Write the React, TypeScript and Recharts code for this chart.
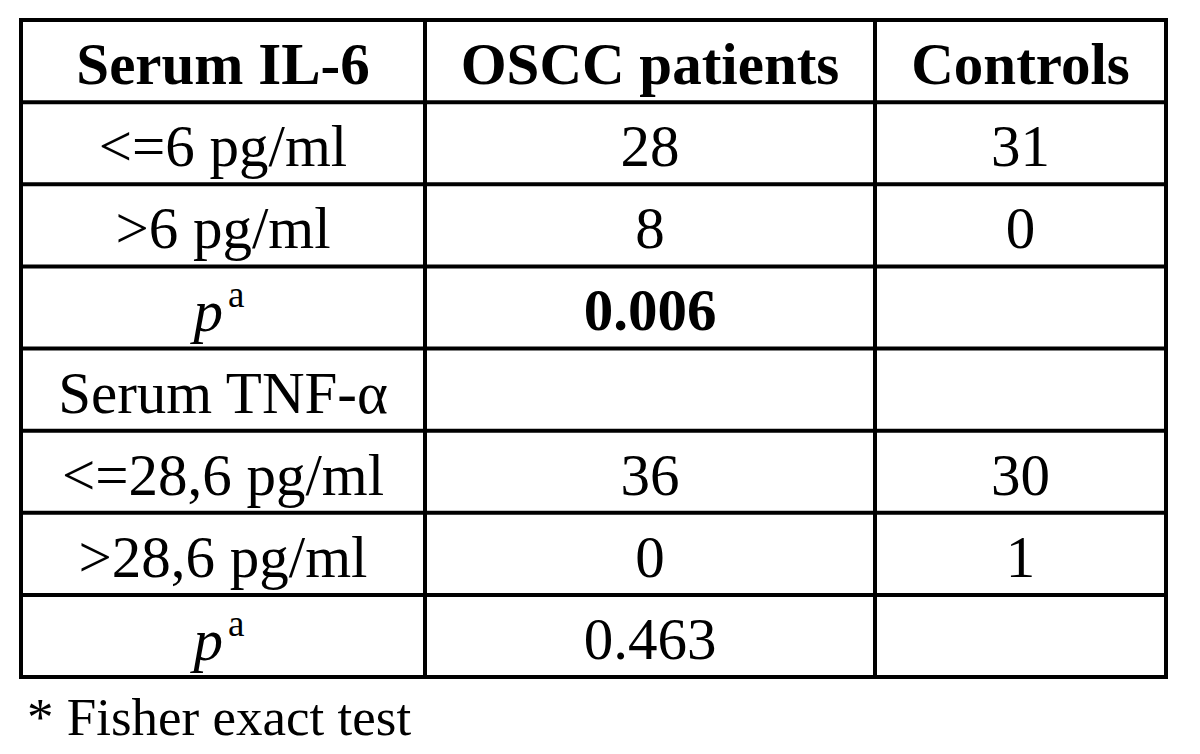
import { ReferenceLine, Scatter, ScatterChart, XAxis, YAxis } from "recharts";

const headers = ["Serum IL-6", "OSCC patients", "Controls"];
const rowLabels = ["<=6 pg/ml", ">6 pg/ml", "p", "Serum TNF-α", "<=28,6 pg/ml", ">28,6 pg/ml", "p"];
const osccValues = ["28", "8", "0.006", "", "36", "0", "0.463"];
const controlValues = ["31", "0", "", "", "30", "1", ""];
const boldValues = ["0.006"];
const footnote = "* Fisher exact test";

// layout (pixel widths of the three columns)
const COL_EDGES = [0, 404, 854, 1145];
const ROWS = rowLabels.length + 1;
const FONT = '"Liberation Serif", "Times New Roman", serif';

interface CellDatum {
  x: number;
  y: number;
  text: string;
  bold: boolean;
  isP: boolean;
}

const colCenter = (c: number) => (COL_EDGES[c] + COL_EDGES[c + 1]) / 2;

const cells: CellDatum[] = [];
headers.forEach((h, c) => cells.push({ x: colCenter(c), y: 0.5, text: h, bold: true, isP: false }));
rowLabels.forEach((label, r) => {
  const row = [label, osccValues[r], controlValues[r]];
  row.forEach((t, c) => {
    if (!t) return;
    cells.push({
      x: colCenter(c),
      y: r + 1.5,
      text: t,
      bold: boldValues.includes(t),
      isP: c === 0 && t === "p",
    });
  });
});

function CellText(props: any) {
  const { cx, cy, payload } = props;
  if (payload.isP) {
    return (
      <text x={cx - 4} y={cy + 24} textAnchor="middle" fontFamily={FONT} fontSize={59} fill="#000">
        <tspan fontStyle="italic">p</tspan>
        <tspan fontSize={37} dx={5} dy={-24}>a</tspan>
      </text>
    );
  }
  return (
    <text
      x={cx}
      y={cy + 23}
      textAnchor="middle"
      fontFamily={FONT}
      fontSize={59}
      fontWeight={payload.bold ? "bold" : "normal"}
      fill="#000"
    >
      {payload.text}
    </text>
  );
}

export default function App() {
  return (
    <div style={{ position: "absolute", left: 0, top: 0, width: 1200, height: 754, background: "#fff" }}>
      <ScatterChart width={1200} height={754} margin={{ top: 20, left: 21, right: 34, bottom: 77 }}>
        <XAxis type="number" dataKey="x" domain={[0, 1145]} hide />
        <YAxis type="number" dataKey="y" domain={[0, ROWS]} reversed hide />
        {Array.from({ length: ROWS + 1 }, (_, i) => (
          <ReferenceLine key={`h${i}`} y={i} stroke="#000" strokeWidth={4} strokeLinecap="square" />
        ))}
        {COL_EDGES.map((e) => (
          <ReferenceLine key={`v${e}`} x={e} stroke="#000" strokeWidth={4} strokeLinecap="square" />
        ))}
        <Scatter data={cells} shape={CellText} isAnimationActive={false} />
      </ScatterChart>
      <div
        style={{
          position: "absolute",
          left: 27,
          top: 686,
          fontFamily: FONT,
          fontSize: 53,
          lineHeight: "62px",
          color: "#000",
          whiteSpace: "nowrap",
        }}
      >
        {footnote}
      </div>
    </div>
  );
}
